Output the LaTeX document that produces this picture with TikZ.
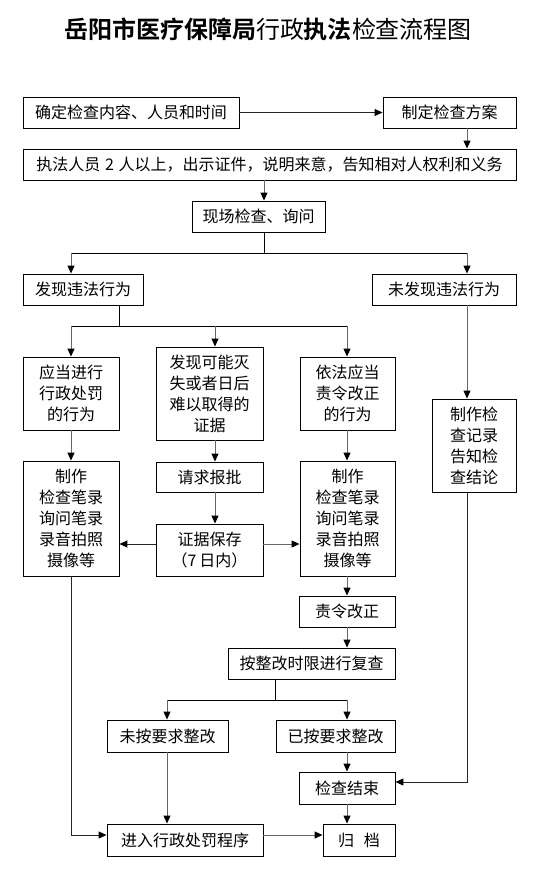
\documentclass[tikz,border=0pt]{standalone}
\usepackage{fontspec}
\newfontfamily\cjk{Noto Sans CJK SC}[BoldFont={Noto Sans CJK SC Bold}]
\usetikzlibrary{arrows.meta}
\tikzset{
  box/.style={draw=black, line width=0.9pt, inner sep=0pt, align=center,
    font=\cjk\fontsize{16}{21}\selectfont, fill=white},
  conn/.style={line width=1pt, draw=black!60,
    -{Triangle[length=8pt,width=7pt,color=black]}},
  connk/.style={conn, draw=black!85},
  bar/.style={line width=0.9pt, draw=black},
}
\begin{document}
\begin{tikzpicture}[x=1pt,y=-1pt]
\useasboundingbox[fill=white] (0,0) rectangle (535,892);
\node[font=\cjk\fontsize{24}{26}\selectfont, inner sep=0pt] (title) at (268,29)
  {\textbf{岳阳市医疗保障局}行政\textbf{执法}检查流程图};

\node[box, minimum width=216pt, minimum height=31pt] (A) at (131,112.5) {确定检查内容、人员和时间};
\node[box, minimum width=133pt, minimum height=31pt] (B) at (449.5,112.5) {制定检查方案};
\node[box, minimum width=493pt, minimum height=31pt] (C) at (269.5,164.5)
  {执法人员\hspace{0.3em}2\hspace{0.3em}人以上，出示证件，说明来意，告知相对人权利和义务};
\node[box, minimum width=133pt, minimum height=31pt] (D) at (258.5,216.5) {现场检查、询问};
\node[box, minimum width=120pt, minimum height=31pt] (E) at (83,289.5) {发现违法行为};
\node[box, minimum width=144pt, minimum height=31pt] (F) at (444,289.5) {未发现违法行为};
\node[box, minimum width=96pt, minimum height=73pt] (G) at (71,393.5) {应当进行\\行政处罚\\的行为};
\node[box, minimum width=107pt, minimum height=93pt] (H) at (209.5,393.5) {发现可能灭\\失或者日后\\难以取得的\\证据};
\node[box, minimum width=95pt, minimum height=73pt] (I) at (347.5,393.5) {依法应当\\责令改正\\的行为};
\node[box, minimum width=84pt, minimum height=93pt] (J) at (474,445.5) {制作检\\查记录\\告知检\\查结论};
\node[box, minimum width=96pt, minimum height=115pt] (K) at (71,518.5) {制作\\检查笔录\\询问笔录\\录音拍照\\摄像等};
\node[box, minimum width=107pt, minimum height=30pt] (L) at (209.5,477) {请求报批};
\node[box, minimum width=107pt, minimum height=52pt] (M) at (209.5,550) {证据保存\\（7\,日内）};
\node[box, minimum width=95pt, minimum height=115pt] (N) at (347.5,518.5) {制作\\检查笔录\\询问笔录\\录音拍照\\摄像等};
\node[box, minimum width=96pt, minimum height=31pt] (O) at (347,611.5) {责令改正};
\node[box, minimum width=167pt, minimum height=31pt] (P) at (311.5,663.5) {按整改时限进行复查};
\node[box, minimum width=121pt, minimum height=32pt] (Q) at (167.5,736) {未按要求整改};
\node[box, minimum width=119pt, minimum height=32pt] (R) at (335.5,736) {已按要求整改};
\node[box, minimum width=96pt, minimum height=32pt] (S) at (347,788) {检查结束};
\node[box, minimum width=156pt, minimum height=32pt] (T) at (185,840) {进入行政处罚程序};
\node[box, minimum width=72pt, minimum height=32pt] (U) at (359,840) {归\hspace{0.6em}档};

\coordinate (c71) at (71,0);
\coordinate (c119) at (119,0);
\coordinate (c167) at (167,0);
\coordinate (c215) at (215,0);
\coordinate (c264) at (264,0);
\coordinate (c275) at (275,0);
\coordinate (c347) at (347,0);
\coordinate (c467) at (467,0);
\coordinate (b1) at (0,253);
\coordinate (b2) at (0,326);
\coordinate (b3) at (0,700);

\draw[connk] (A) -- (B);
\draw[conn] (B.south -| c467) -- (C.north -| c467);
\draw[conn] (C.south -| c264) -- (D.north -| c264);
\draw[bar] (D.south -| c264) -- (c264 |- b1);
\draw[bar] (c71 |- b1) -- (c467 |- b1);
\draw[conn] (c71 |- b1) -- (E.north -| c71);
\draw[conn] (c467 |- b1) -- (F.north -| c467);
\draw[bar] (E.south -| c119) -- (c119 |- b2);
\draw[bar] (c71 |- b2) -- (c347 |- b2);
\draw[conn] (c71 |- b2) -- (G.north -| c71);
\draw[conn] (c215 |- b2) -- (H.north -| c215);
\draw[conn] (c347 |- b2) -- (I.north -| c347);
\draw[conn] (F.south -| c467) -- (J.north -| c467);
\draw[conn] (G.south -| c71) -- (K.north -| c71);
\draw[conn] (H.south -| c215) -- (L.north -| c215);
\draw[conn] (L.south -| c215) -- (M.north -| c215);
\draw[conn] (I.south -| c347) -- (N.north -| c347);
\draw[connk] ([yshift=6pt]M.west) -- ([yshift=6pt]M.west -| K.east);
\draw[conn] ([yshift=6pt]M.east) -- ([yshift=6pt]M.east -| N.west);
\draw[conn] (N.south -| c347) -- (O.north -| c347);
\draw[conn] (O.south -| c347) -- (P.north -| c347);
\draw[bar] (P.south -| c275) -- (c275 |- b3);
\draw[bar] (c167 |- b3) -- (c347 |- b3);
\draw[conn] (c167 |- b3) -- (Q.north -| c167);
\draw[conn] (c347 |- b3) -- (R.north -| c347);
\draw[conn] (Q.south -| c167) -- (T.north -| c167);
\draw[conn] (R.south -| c347) -- (S.north -| c347);
\draw[conn] (S.south -| c347) -- (U.north -| c347);
\draw[connk] (K.south -| c71) |- ([yshift=5pt]T.west);
\draw[conn] ([yshift=5pt]T.east) -- ([yshift=5pt]T.east -| U.west);
\draw[connk] (J.south -| c467) |- ([yshift=6pt]S.east);
\end{tikzpicture}
\end{document}
